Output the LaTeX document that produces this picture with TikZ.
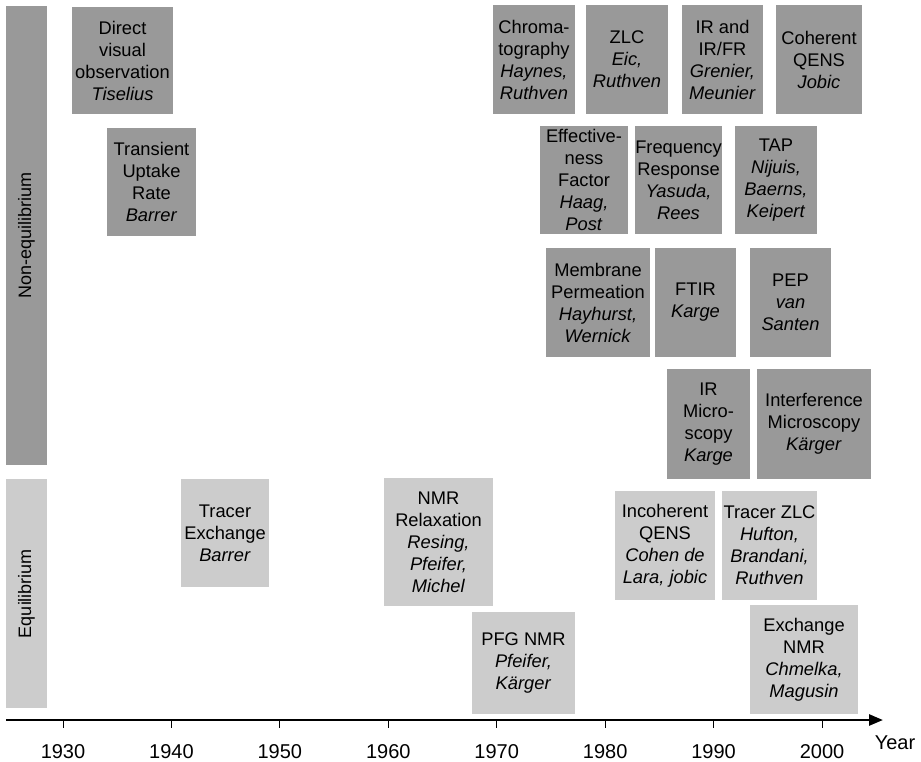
\documentclass[tikz,border=0pt]{standalone}
\usepackage{fontspec}
\setmainfont{Liberation Sans}
\usetikzlibrary{arrows.meta}
\begin{document}
\begin{tikzpicture}[x=1pt,y=-1pt,
  boxtext/.style={font=\fontsize{18.3}{22}\selectfont, align=center, inner sep=0pt, text=black},
  neq/.style={boxtext, fill=neqgray},
  eqb/.style={boxtext, fill=eqgray},
  barlabel/.style={font=\fontsize{18}{22}\selectfont, rotate=90, text=black},
  axisline/.style={line width=2.6pt, -{Triangle[length=14pt,width=11pt]}},
  tickline/.style={line width=1pt},
  yearlabel/.style={font=\fontsize{20}{24}\selectfont, text=black}]
\definecolor{neqgray}{HTML}{999999}
\definecolor{eqgray}{HTML}{CCCCCC}
\useasboundingbox (0,0) rectangle (921,762);
% category bars
\node[fill=neqgray, minimum width=41pt, minimum height=459pt, inner sep=0pt] (barneq) at (26.5,235.5) {};
\node[barlabel] (lneq) at (barneq.center) {Non-equilibrium};
\node[fill=eqgray, minimum width=41pt, minimum height=229pt, inner sep=0pt] (bareq) at (26.5,593.5) {};
\node[barlabel] (leq) at (bareq.center) {Equilibrium};
% non-equilibrium methods
\node[neq, minimum width=101pt, minimum height=107pt] (dv) at (122.5,60.5) {Direct\\visual\\observation\\\textit{Tiselius}};
\node[neq, minimum width=89pt, minimum height=108pt] (tu) at (151.5,182) {Transient\\Uptake\\Rate\\\textit{Barrer}};
\node[neq, minimum width=82pt, minimum height=109pt] (chrom) at (534,59.5) {Chroma-\\tography\\\textit{Haynes,}\\\textit{Ruthven}};
\node[neq, minimum width=82pt, minimum height=109pt] (zlc) at (627,59.5) {ZLC\\\textit{Eic,}\\\textit{Ruthven}};
\node[neq, minimum width=81pt, minimum height=109pt] (irfr) at (722.5,59.5) {IR and\\IR/FR\\\textit{Grenier,}\\\textit{Meunier}};
\node[neq, minimum width=86pt, minimum height=109pt] (cqens) at (819,59.5) {Coherent\\QENS\\\textit{Jobic}};
\node[neq, minimum width=88pt, minimum height=108pt] (eff) at (584,180) {Effective-\\ness\\Factor\\\textit{Haag,}\\\textit{Post}};
\node[neq, minimum width=87pt, minimum height=108pt] (fr) at (678.5,180) {Frequency\\Response\\\textit{Yasuda,}\\\textit{Rees}};
\node[neq, minimum width=82pt, minimum height=108pt] (tap) at (776,180) {TAP\\\textit{Nijuis,}\\\textit{Baerns,}\\\textit{Keipert}};
\node[neq, minimum width=104pt, minimum height=109pt] (mem) at (598,302.5) {Membrane\\Permeation\\\textit{Hayhurst,}\\\textit{Wernick}};
\node[neq, minimum width=81pt, minimum height=109pt] (ftir) at (695.5,302.5) {FTIR\\\textit{Karge}};
\node[neq, minimum width=81pt, minimum height=109pt] (pep) at (790.5,302.5) {PEP\\\textit{van}\\\textit{Santen}};
\node[neq, minimum width=83pt, minimum height=110pt] (irm) at (708.5,424) {IR\\Micro-\\scopy\\\textit{Karge}};
\node[neq, minimum width=114pt, minimum height=110pt] (intm) at (814,424) {Interference\\Microscopy\\\textit{Kärger}};
% equilibrium methods
\node[eqb, minimum width=88pt, minimum height=108pt] (trex) at (225,533) {Tracer\\Exchange\\\textit{Barrer}};
\node[eqb, minimum width=109pt, minimum height=128pt] (nmrr) at (438.5,542) {NMR\\Relaxation\\\textit{Resing,}\\\textit{Pfeifer,}\\\textit{Michel}};
\node[eqb, minimum width=103pt, minimum height=102pt] (pfg) at (523.5,663) {PFG NMR\\\textit{Pfeifer,}\\\textit{Kärger}};
\node[eqb, minimum width=100pt, minimum height=109pt] (iqens) at (665,545.5) {Incoherent\\QENS\\\textit{Cohen de}\\\textit{Lara, jobic}};
\node[eqb, minimum width=95pt, minimum height=109pt] (tzlc) at (769.5,545.5) {Tracer ZLC\\\textit{Hufton,}\\\textit{Brandani,}\\\textit{Ruthven}};
\node[eqb, minimum width=108pt, minimum height=109pt] (exnmr) at (804,659.5) {Exchange\\NMR\\\textit{Chmelka,}\\\textit{Magusin}};
% time axis
\coordinate (ax0) at (6,720);
\coordinate (ax1) at (883,720);
\draw[axisline] (ax0) -- (ax1);
\foreach \yr [count=\k from 0] in {1930,1940,1950,1960,1970,1980,1990,2000}{
  \coordinate (t\yr) at ({63+108.43*\k},720);
  \coordinate (b\yr) at ({63+108.43*\k},728);
  \draw[tickline] (t\yr) -- (b\yr);
  \node[yearlabel] (y\yr) at ({63+108.43*\k},752) {\yr};
}
\node[yearlabel] (yearlbl) at (895,743) {Year};
\end{tikzpicture}
\end{document}
